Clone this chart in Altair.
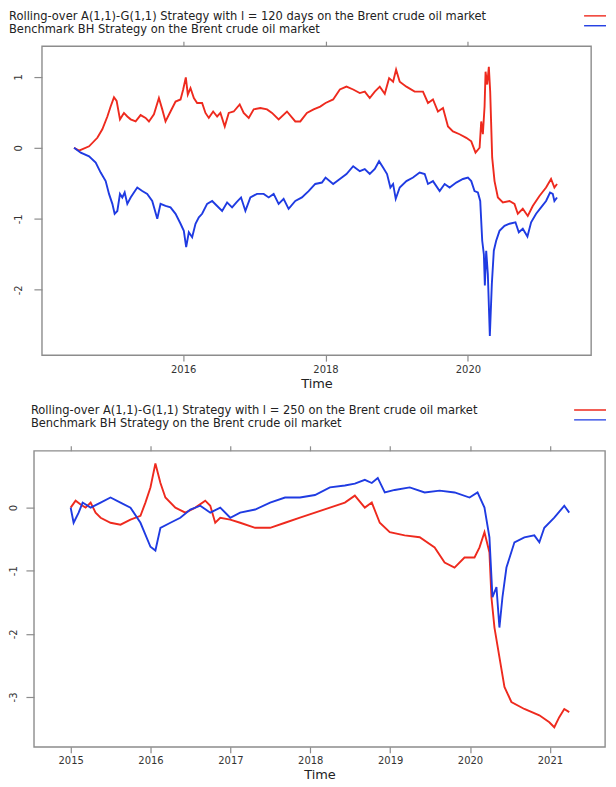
import altair as alt
import pandas as pd

# ---------------- data ----------------
# Panel 1: l = 120 days
p1_red_year = [2014.467, 2014.537, 2014.678, 2014.794, 2014.864, 2014.935, 2014.981, 2015.028, 2015.065, 2015.112,
               2015.168, 2015.215, 2015.262, 2015.332, 2015.402, 2015.472, 2015.519, 2015.589, 2015.659, 2015.706,
               2015.752, 2015.822, 2015.893, 2015.963, 2016.000, 2016.037, 2016.065, 2016.103, 2016.150, 2016.196,
               2016.266, 2016.313, 2016.360, 2016.421, 2016.477, 2016.523, 2016.584, 2016.640, 2016.710, 2016.794,
               2016.850, 2016.921, 2016.991, 2017.084, 2017.178, 2017.248, 2017.341, 2017.458, 2017.575, 2017.645,
               2017.738, 2017.832, 2017.925, 2018.000, 2018.107, 2018.201, 2018.294, 2018.388, 2018.481, 2018.551,
               2018.621, 2018.692, 2018.762, 2018.832, 2018.893, 2018.949, 2018.991, 2019.042, 2019.136, 2019.252,
               2019.369, 2019.439, 2019.509, 2019.579, 2019.650, 2019.720, 2019.790, 2019.883, 2019.977, 2020.047,
               2020.107, 2020.164, 2020.187, 2020.210, 2020.234, 2020.248, 2020.271, 2020.294, 2020.313, 2020.341,
               2020.374, 2020.421, 2020.491, 2020.584, 2020.654, 2020.701, 2020.771, 2020.841, 2020.911, 2021.005,
               2021.098, 2021.168, 2021.215, 2021.252]
p1_red_value = [0.00, -0.04, 0.02, 0.14, 0.26, 0.44, 0.58, 0.71, 0.66, 0.40,
                0.49, 0.44, 0.40, 0.37, 0.46, 0.42, 0.37, 0.47, 0.70, 0.54,
                0.37, 0.51, 0.65, 0.68, 0.82, 0.99, 0.75, 0.84, 0.70, 0.63,
                0.63, 0.49, 0.42, 0.51, 0.44, 0.49, 0.30, 0.49, 0.51, 0.61,
                0.49, 0.42, 0.54, 0.56, 0.54, 0.49, 0.40, 0.51, 0.37, 0.37,
                0.49, 0.54, 0.58, 0.63, 0.68, 0.82, 0.86, 0.82, 0.77, 0.79,
                0.70, 0.79, 0.86, 0.76, 0.98, 0.93, 1.10, 0.93, 0.86, 0.79,
                0.79, 0.63, 0.68, 0.51, 0.56, 0.30, 0.23, 0.19, 0.14, 0.09,
                -0.07, 0.00, 0.37, 0.19, 0.58, 1.07, 0.89, 1.14, 0.79, -0.14,
                -0.47, -0.70, -0.77, -0.75, -0.79, -0.93, -0.86, -0.96, -0.82, -0.68,
                -0.56, -0.44, -0.56, -0.51]
p1_blue_year = [2014.467, 2014.561, 2014.678, 2014.771, 2014.841, 2014.911, 2014.958, 2015.005, 2015.037, 2015.075,
                2015.112, 2015.145, 2015.178, 2015.215, 2015.262, 2015.308, 2015.355, 2015.425, 2015.495, 2015.565,
                2015.636, 2015.682, 2015.752, 2015.822, 2015.893, 2015.963, 2016.009, 2016.042, 2016.079, 2016.126,
                2016.173, 2016.220, 2016.266, 2016.336, 2016.407, 2016.477, 2016.547, 2016.617, 2016.687, 2016.748,
                2016.813, 2016.874, 2016.944, 2017.037, 2017.131, 2017.201, 2017.271, 2017.341, 2017.411, 2017.481,
                2017.575, 2017.668, 2017.762, 2017.855, 2017.949, 2018.000, 2018.107, 2018.201, 2018.294, 2018.388,
                2018.481, 2018.551, 2018.621, 2018.692, 2018.752, 2018.808, 2018.864, 2018.911, 2018.949, 2018.986,
                2019.042, 2019.136, 2019.229, 2019.322, 2019.393, 2019.439, 2019.509, 2019.603, 2019.673, 2019.743,
                2019.836, 2019.930, 2020.000, 2020.047, 2020.093, 2020.140, 2020.173, 2020.201, 2020.224, 2020.238,
                2020.257, 2020.280, 2020.308, 2020.336, 2020.364, 2020.397, 2020.444, 2020.514, 2020.584, 2020.668,
                2020.715, 2020.771, 2020.836, 2020.888, 2020.958, 2021.028, 2021.098, 2021.154, 2021.192, 2021.215,
                2021.252]
p1_blue_value = [0.00, -0.07, -0.12, -0.21, -0.35, -0.47, -0.65, -0.79, -0.93, -0.89,
                 -0.65, -0.70, -0.63, -0.79, -0.70, -0.63, -0.56, -0.61, -0.65, -0.75,
                 -1.00, -0.79, -0.82, -0.84, -0.93, -1.07, -1.17, -1.40, -1.19, -1.26,
                 -1.07, -0.98, -0.93, -0.79, -0.75, -0.82, -0.89, -0.77, -0.84, -0.77,
                 -0.70, -0.89, -0.70, -0.65, -0.65, -0.70, -0.65, -0.79, -0.72, -0.86,
                 -0.75, -0.70, -0.61, -0.51, -0.49, -0.42, -0.51, -0.44, -0.37, -0.26,
                 -0.33, -0.30, -0.37, -0.30, -0.19, -0.28, -0.37, -0.56, -0.51, -0.72,
                 -0.56, -0.47, -0.42, -0.35, -0.37, -0.51, -0.47, -0.61, -0.51, -0.56,
                 -0.49, -0.44, -0.42, -0.47, -0.61, -0.63, -0.75, -1.31, -1.50, -1.94,
                 -1.45, -1.78, -2.65, -1.92, -1.45, -1.31, -1.17, -1.10, -1.07, -1.05,
                 -1.19, -1.14, -1.25, -1.05, -0.93, -0.84, -0.75, -0.63, -0.65, -0.75,
                 -0.70]

# Panel 2: l = 250
p2_red_year = [2015.000, 2015.062, 2015.125, 2015.187, 2015.250, 2015.312, 2015.375, 2015.499, 2015.624, 2015.749,
               2015.874, 2015.936, 2015.999, 2016.061, 2016.124, 2016.186, 2016.311, 2016.436, 2016.561, 2016.685,
               2016.748, 2016.810, 2016.873, 2016.998, 2017.122, 2017.310, 2017.497, 2017.684, 2017.871, 2018.059,
               2018.246, 2018.433, 2018.558, 2018.683, 2018.770, 2018.870, 2018.995, 2019.182, 2019.370, 2019.557,
               2019.682, 2019.806, 2019.931, 2020.056, 2020.119, 2020.181, 2020.243, 2020.268, 2020.306, 2020.368,
               2020.431, 2020.518, 2020.680, 2020.868, 2020.993, 2021.055, 2021.117, 2021.180, 2021.242]
p2_red_value = [0.00, 0.11, 0.05, 0.00, 0.08, -0.08, -0.16, -0.24, -0.27, -0.19,
                -0.13, 0.08, 0.32, 0.70, 0.39, 0.16, 0.00, -0.08, 0.00, 0.11,
                0.03, -0.24, -0.16, -0.19, -0.24, -0.32, -0.32, -0.24, -0.16, -0.08,
                0.00, 0.08, 0.19, 0.00, 0.08, -0.24, -0.39, -0.44, -0.47, -0.63,
                -0.87, -0.95, -0.79, -0.79, -0.63, -0.39, -0.71, -1.42, -1.90, -2.37,
                -2.84, -3.08, -3.19, -3.29, -3.40, -3.48, -3.32, -3.19, -3.24]
p2_blue_year = [2015.000, 2015.037, 2015.100, 2015.150, 2015.250, 2015.375, 2015.499, 2015.624, 2015.749, 2015.874,
                2015.999, 2016.061, 2016.124, 2016.249, 2016.373, 2016.498, 2016.623, 2016.748, 2016.873, 2016.998,
                2017.122, 2017.310, 2017.497, 2017.684, 2017.871, 2018.059, 2018.246, 2018.433, 2018.558, 2018.683,
                2018.770, 2018.845, 2018.933, 2019.057, 2019.245, 2019.432, 2019.620, 2019.807, 2019.994, 2020.094,
                2020.181, 2020.243, 2020.281, 2020.331, 2020.368, 2020.406, 2020.456, 2020.556, 2020.680, 2020.805,
                2020.868, 2020.930, 2021.055, 2021.180, 2021.242]
p2_blue_value = [0.00, -0.24, -0.08, 0.08, 0.00, 0.08, 0.16, 0.08, 0.00, -0.24,
                 -0.62, -0.68, -0.32, -0.24, -0.16, -0.03, 0.03, -0.08, 0.00, -0.16,
                 -0.08, -0.03, 0.08, 0.16, 0.16, 0.20, 0.32, 0.35, 0.38, 0.44,
                 0.39, 0.47, 0.24, 0.28, 0.32, 0.24, 0.27, 0.24, 0.16, 0.24,
                 0.00, -0.47, -1.42, -1.26, -1.90, -1.42, -0.95, -0.55, -0.47, -0.44,
                 -0.55, -0.32, -0.16, 0.03, -0.08]

p1_title = "Rolling-over A(1,1)-G(1,1) Strategy with l = 120 days on the Brent crude oil market"
p2_title = "Rolling-over A(1,1)-G(1,1) Strategy with l = 250 on the Brent crude oil market"
bench_title = "Benchmark BH Strategy on the Brent crude oil market"
series_names = ["Rolling-over", "Benchmark BH"]

p1_xticks = [2016, 2018, 2020]
p1_yticks = [1, 0, -1, -2]
p2_xticks = [2015, 2016, 2017, 2018, 2019, 2020, 2021]
p2_yticks = [0, -1, -2, -3]

# ---------------- style ----------------
FONT = "DejaVu Sans"
RED = "#EE2A1E"
BLUE = "#1F3BE2"
GREY = "#8c8c8c"
TXT = 11.5


def make_df(ry, rv, by, bv):
    a = pd.DataFrame({"year": ry, "value": rv, "series": series_names[0], "k": 0})
    b = pd.DataFrame({"year": by, "value": bv, "series": series_names[1], "k": 1})
    return pd.concat([a, b], ignore_index=True)


def panel(df, xdom, ydom, xticks, yticks, w, h, line1, tx, ty1, ty2, lx1, lx2, ly1, ly2, ypad):
    xscale = alt.Scale(domain=xdom, nice=False, zero=False)
    yscale = alt.Scale(domain=ydom, nice=False, zero=False)
    lines = alt.Chart(df).mark_line(strokeWidth=1.9, clip=True).encode(
        x=alt.X("year:Q", scale=xscale,
                axis=alt.Axis(orient="bottom", values=xticks, format="d", title="Time",
                              tickSize=6, labelPadding=3, labelFontSize=10,
                              titleFontSize=13, titleFontWeight="normal", titlePadding=3,
                              domain=False)),
        y=alt.Y("value:Q", scale=yscale,
                axis=alt.Axis(values=yticks, labelExpr="'' + datum.value", title=None, labelAngle=-90,
                              tickSize=8, labelPadding=ypad, labelFontSize=10, domain=False)),
        color=alt.Color("series:N", scale=alt.Scale(domain=series_names, range=[RED, BLUE]), legend=None),
        order="k:Q",
    )
    top_ticks = alt.Chart(df).mark_line(opacity=0).encode(
        x=alt.X("year:Q", scale=xscale,
                axis=alt.Axis(orient="top", values=xticks, labels=False, title=None,
                              tickSize=5, domain=False)),
        y=alt.Y("value:Q", scale=yscale),
        detail="series:N",
    )
    one = pd.DataFrame({"t1": [line1], "t2": [bench_title]})
    text1 = alt.Chart(one).mark_text(align="left", baseline="alphabetic", font=FONT, fontSize=TXT,
                                     color="#222").encode(
        x=alt.value(tx), y=alt.value(ty1), text="t1:N")
    text2 = alt.Chart(one).mark_text(align="left", baseline="alphabetic", font=FONT, fontSize=TXT,
                                     color="#222").encode(
        x=alt.value(tx), y=alt.value(ty2), text="t2:N")
    rule1 = alt.Chart(one).mark_rule(color=RED, strokeWidth=1.4).encode(
        x=alt.value(lx1), x2=alt.value(lx2), y=alt.value(ly1))
    rule2 = alt.Chart(one).mark_rule(color=BLUE, strokeWidth=1.4).encode(
        x=alt.value(lx1), x2=alt.value(lx2), y=alt.value(ly2))
    return alt.layer(lines, top_ticks, text1, text2, rule1, rule2).properties(width=w, height=h)


df1 = make_df(p1_red_year, p1_red_value, p1_blue_year, p1_blue_value)
df2 = make_df(p2_red_year, p2_red_value, p2_blue_year, p2_blue_value)

top = panel(df1, [2014.015, 2021.73], [-2.92, 1.43], p1_xticks, p1_yticks, 551, 310,
            p1_title, -33, -26.4, -12.9, 544, 566, -30.4, -20.5, 10)
bottom = panel(df2, [2014.54, 2021.69], [-3.79, 0.90], p2_xticks, p2_yticks, 573, 297,
               p2_title, -3, -37, -23.5, 542, 574, -41, -31, 7)

# small invisible spacer shifts the upper panel 8 px to the right of the lower one
spacer = alt.Chart(pd.DataFrame({"a": [0]})).mark_point(opacity=0).encode(
    x=alt.X("a:Q", axis=None), y=alt.Y("a:Q", axis=None)
).properties(width=8, height=10, view=alt.ViewBackground(stroke="transparent"))

top_row = alt.hconcat(spacer, top, spacing=0, bounds="flush")

chart = alt.vconcat(top_row, bottom, spacing=13).properties(
    padding={"left": 0, "top": 0, "right": 0, "bottom": 0}
).configure_view(
    stroke=GREY, strokeWidth=1.4
).configure_axis(
    grid=False, domainColor=GREY, tickColor=GREY, tickWidth=1.2, labelColor="#333",
    titleColor="#222", labelFont=FONT, titleFont=FONT
)

chart.save("out.html", embed_options={"renderer": "svg", "actions": False})
